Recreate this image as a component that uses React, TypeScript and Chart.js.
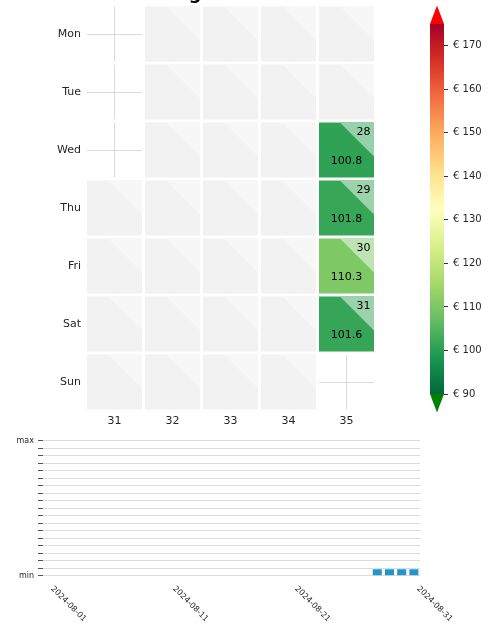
import React, { useEffect, useRef } from 'react';
import { Chart, registerables } from 'chart.js';

Chart.register(...registerables);

// ---------- data ----------
const TITLE = 'Aug 2024';
const weekNumbers = [31, 32, 33, 34, 35];
const weekdayLabels = ['Mon', 'Tue', 'Wed', 'Thu', 'Fri', 'Sat', 'Sun'];
const monthDays = [1, 2, 3, 4, 5, 6, 7, 8, 9, 10, 11, 12, 13, 14, 15, 16, 17, 18, 19, 20, 21, 22, 23, 24, 25, 26, 27, 28, 29, 30, 31];
const firstWeek = 31; // ISO week of 2024-08-01
const firstWeekdayIndex = 3; // 2024-08-01 is a Thursday
const valueDays = [28, 29, 30, 31];
const dailyValues = [100.8, 101.8, 110.3, 101.6];
const colorbarTicks = [90, 100, 110, 120, 130, 140, 150, 160, 170];
const colorMin = 90;
const colorMax = 175;
const barDays = [28, 29, 30, 31];
const barHeights = [0.85, 0.85, 0.85, 0.85];
const levelTicks = [0, 1, 2, 3, 4, 5, 6, 7, 8, 9, 10, 11, 12, 13, 14, 15, 16, 17, 18];
const dateTickDays = [1, 11, 21, 31];
const dateTickLabels = ['2024-08-01', '2024-08-11', '2024-08-21', '2024-08-31'];

// ---------- styles ----------
const FONT = "'DejaVu Sans', sans-serif";
const TEXT = '#262626';
const RDYLGN_R = ['#006837', '#1a9850', '#66bd63', '#a6d96a', '#d9ef8b', '#ffffbf', '#fee08b', '#fdae61', '#f46d43', '#d73027', '#a50026'];

function hexToRgb(h: string): number[] {
  const n = parseInt(h.slice(1), 16);
  return [(n >> 16) & 255, (n >> 8) & 255, n & 255];
}
function cmap(t: number): number[] {
  const c = Math.max(0, Math.min(1, t)) * 10;
  const i = Math.min(9, Math.floor(c));
  const f = c - i;
  const a = hexToRgb(RDYLGN_R[i]);
  const b = hexToRgb(RDYLGN_R[i + 1]);
  return a.map((v, k) => Math.round(v + (b[k] - v) * f));
}
const rgb = (c: number[]) => `rgb(${c[0]},${c[1]},${c[2]})`;
const lighten = (c: number[], a: number) => c.map((v) => Math.round(v + (255 - v) * a));
const noPad = (s: any) => {
  s.paddingTop = 0;
  s.paddingBottom = 0;
  s.paddingLeft = 0;
  s.paddingRight = 0;
};

function Heatmap() {
  const ref = useRef<HTMLCanvasElement>(null);
  useEffect(() => {
    const cellsPlugin = {
      id: 'calendarCells',
      beforeDatasetsDraw(chart: any) {
        const { ctx } = chart;
        const xs = chart.scales.x;
        const ys = chart.scales.y;
        ctx.save();
        ctx.strokeStyle = '#ffffff';
        ctx.lineWidth = 3;
        for (const w of weekNumbers) {
          for (let r = 1; r <= weekdayLabels.length; r++) {
            const x0 = xs.getPixelForValue(w - 0.5);
            const x1 = xs.getPixelForValue(w + 0.5);
            const y0 = ys.getPixelForValue(r - 0.5);
            const y1 = ys.getPixelForValue(r + 0.5);
            ctx.strokeRect(x0, y0, x1 - x0, y1 - y0);
          }
        }
        for (const d of monthDays) {
          const idx = d - 1 + firstWeekdayIndex;
          const w = firstWeek + Math.floor(idx / 7);
          const r = (idx % 7) + 1;
          const k = valueDays.indexOf(d);
          const has = k >= 0;
          const base = has ? cmap((dailyValues[k] - colorMin) / (colorMax - colorMin)) : [242, 242, 242];
          const tri = has ? lighten(base, 0.5) : [247, 247, 247];
          const x0 = xs.getPixelForValue(w - 0.5) + 1.5;
          const x1 = xs.getPixelForValue(w + 0.5) - 1.5;
          const y0 = ys.getPixelForValue(r - 0.5) + 1.5;
          const y1 = ys.getPixelForValue(r + 0.5) - 1.5;
          const cw = x1 - x0;
          const ch = y1 - y0;
          ctx.fillStyle = rgb(base);
          ctx.fillRect(x0, y0, cw, ch);
          ctx.beginPath();
          ctx.moveTo(x0 + 0.38 * cw, y0);
          ctx.lineTo(x1, y0);
          ctx.lineTo(x1, y0 + 0.62 * ch);
          ctx.closePath();
          ctx.fillStyle = rgb(tri);
          ctx.fill();
          if (has) {
            ctx.fillStyle = '#000000';
            ctx.font = `11px ${FONT}`;
            ctx.textBaseline = 'middle';
            ctx.textAlign = 'right';
            ctx.fillText(String(d), x1 - 3.5, y0 + 10);
            ctx.textAlign = 'center';
            ctx.fillText(dailyValues[k].toFixed(1), (x0 + x1) / 2, (y0 + y1) / 2 + 11);
          }
        }
        ctx.restore();
      },
      afterDraw(chart: any) {
        const { ctx } = chart;
        ctx.save();
        ctx.fillStyle = '#000000';
        ctx.font = `bold 18px ${FONT}`;
        ctx.textAlign = 'center';
        ctx.textBaseline = 'alphabetic';
        ctx.fillText(TITLE, 210, -1);
        ctx.restore();
      },
    };
    const chart = new Chart(ref.current as HTMLCanvasElement, {
      type: 'scatter',
      data: { datasets: [{ data: [], pointRadius: 0 }] },
      options: {
        animation: false,
        responsive: false,
        layout: { padding: { left: 0, top: 5, right: 24.5, bottom: 0 } },
        plugins: { legend: { display: false }, tooltip: { enabled: false } },
        scales: {
          x: {
            type: 'linear',
            min: weekNumbers[0] - 0.5,
            max: weekNumbers[weekNumbers.length - 1] + 0.5,
            afterBuildTicks: (s: any) => {
              s.ticks = weekNumbers.map((v) => ({ value: v }));
            },
            afterFit: (s: any) => {
              s.height = 29;
              noPad(s);
            },
            ticks: {
              callback: (v: any) => String(v),
              font: { family: FONT, size: 11 },
              color: TEXT,
              padding: 4,
              maxRotation: 0,
              minRotation: 0,
              autoSkip: false,
            },
            grid: { color: '#d9d9d9', lineWidth: 1, drawTicks: false },
            border: { display: false },
          },
          y: {
            type: 'linear',
            reverse: true,
            min: 0.5,
            max: weekdayLabels.length + 0.5,
            afterBuildTicks: (s: any) => {
              s.ticks = weekdayLabels.map((_, i) => ({ value: i + 1 }));
            },
            afterFit: (s: any) => {
              s.width = 85.5;
              noPad(s);
            },
            ticks: {
              callback: (v: any) => weekdayLabels[Math.round(v) - 1] ?? '',
              font: { family: FONT, size: 11 },
              color: TEXT,
              padding: 4.5,
              autoSkip: false,
            },
            grid: { color: '#d9d9d9', lineWidth: 1, drawTicks: false },
            border: { display: false },
          },
        },
      },
      plugins: [cellsPlugin],
    } as any);
    return () => chart.destroy();
  }, []);
  return (
    <canvas
      ref={ref}
      width={400}
      height={440}
      style={{ position: 'absolute', left: 0, top: 0, width: 400, height: 440 }}
    />
  );
}

function Colorbar() {
  const ref = useRef<HTMLCanvasElement>(null);
  useEffect(() => {
    const barPlugin = {
      id: 'colorbarBody',
      beforeDatasetsDraw(chart: any) {
        const { ctx, chartArea } = chart;
        const ys = chart.scales.y;
        const yb = ys.getPixelForValue(colorMin);
        const yt = ys.getPixelForValue(colorMax);
        const l = chartArea.left;
        const r = chartArea.right;
        const g = ctx.createLinearGradient(0, yb, 0, yt);
        RDYLGN_R.forEach((c, i) => g.addColorStop(i / (RDYLGN_R.length - 1), c));
        ctx.save();
        ctx.fillStyle = g;
        ctx.fillRect(l, yt, r - l, yb - yt);
        const len = (r - l) * 1.33;
        ctx.fillStyle = '#ff0000';
        ctx.beginPath();
        ctx.moveTo(l, yt);
        ctx.lineTo(r, yt);
        ctx.lineTo((l + r) / 2, yt - len);
        ctx.closePath();
        ctx.fill();
        ctx.fillStyle = '#008000';
        ctx.beginPath();
        ctx.moveTo(l, yb);
        ctx.lineTo(r, yb);
        ctx.lineTo((l + r) / 2, yb + len);
        ctx.closePath();
        ctx.fill();
        ctx.restore();
      },
    };
    const chart = new Chart(ref.current as HTMLCanvasElement, {
      type: 'scatter',
      data: { datasets: [{ data: [], pointRadius: 0 }] },
      options: {
        animation: false,
        responsive: false,
        layout: { padding: { left: 30, top: 24, right: 0, bottom: 46 } },
        plugins: { legend: { display: false }, tooltip: { enabled: false } },
        scales: {
          x: { display: false, min: 0, max: 1 },
          y: {
            type: 'linear',
            position: 'right',
            min: colorMin,
            max: colorMax,
            afterBuildTicks: (s: any) => {
              s.ticks = colorbarTicks.map((v) => ({ value: v }));
            },
            afterFit: (s: any) => {
              s.width = 55;
              noPad(s);
            },
            ticks: {
              callback: (v: any) => `€ ${v}`,
              font: { family: FONT, size: 10 },
              color: TEXT,
              padding: 5,
              autoSkip: false,
            },
            grid: { drawOnChartArea: false, drawTicks: true, tickLength: 4, tickColor: '#333333', tickWidth: 1 },
            border: { display: false },
          },
        },
      },
      plugins: [barPlugin],
    } as any);
    return () => chart.destroy();
  }, []);
  return (
    <canvas
      ref={ref}
      width={99}
      height={440}
      style={{ position: 'absolute', left: 400, top: 0, width: 99, height: 440 }}
    />
  );
}

function DailyBars() {
  const ref = useRef<HTMLCanvasElement>(null);
  useEffect(() => {
    const labelPlugin = {
      id: 'dateLabels',
      afterDraw(chart: any) {
        const { ctx, chartArea } = chart;
        const xs = chart.scales.x;
        ctx.save();
        ctx.fillStyle = TEXT;
        ctx.font = `8px ${FONT}`;
        ctx.textAlign = 'left';
        ctx.textBaseline = 'top';
        dateTickDays.forEach((d, i) => {
          const px = xs.getPixelForValue(d);
          ctx.save();
          ctx.translate(px + 7, chartArea.bottom + 9);
          ctx.rotate(Math.PI / 4);
          ctx.fillText(dateTickLabels[i], 0, 0);
          ctx.restore();
        });
        ctx.restore();
      },
    };
    const chart = new Chart(ref.current as HTMLCanvasElement, {
      type: 'bar',
      data: {
        datasets: [
          {
            data: barDays.map((d, i) => ({ x: d, y: barHeights[i] })),
            backgroundColor: 'rgb(33,150,206)',
            borderWidth: 0,
            barPercentage: 1,
            categoryPercentage: 0.74,
          },
        ],
      },
      options: {
        animation: false,
        responsive: false,
        layout: { padding: { left: 0, top: 15.7, right: 79, bottom: 0 } },
        plugins: { legend: { display: false }, tooltip: { enabled: false } },
        scales: {
          x: {
            type: 'linear',
            offset: false,
            min: 0.6,
            max: 31.5,
            afterFit: (s: any) => {
              s.height = 49.3;
              noPad(s);
            },
            ticks: { display: false },
            grid: { display: false, offset: false },
            border: { display: false },
          },
          y: {
            type: 'linear',
            min: levelTicks[0],
            max: levelTicks[levelTicks.length - 1],
            afterBuildTicks: (s: any) => {
              s.ticks = levelTicks.map((v) => ({ value: v }));
            },
            afterFit: (s: any) => {
              s.width = 43;
              noPad(s);
            },
            ticks: {
              callback: (v: any) =>
                v === levelTicks[levelTicks.length - 1] ? 'max' : v === levelTicks[0] ? 'min' : '',
              font: { family: FONT, size: 8 },
              color: TEXT,
              padding: 4,
              autoSkip: false,
            },
            grid: { color: '#dcdcdc', lineWidth: 1, drawTicks: true, tickLength: 5, tickColor: '#555555' },
            border: { display: false },
          },
        },
      },
      plugins: [labelPlugin],
    } as any);
    return () => chart.destroy();
  }, []);
  return (
    <canvas
      ref={ref}
      width={499}
      height={200}
      style={{ position: 'absolute', left: 0, top: 425, width: 499, height: 200 }}
    />
  );
}

export default function App() {
  return (
    <div
      style={{
        position: 'fixed',
        left: 0,
        top: 0,
        width: 499,
        height: 625,
        background: '#ffffff',
        overflow: 'hidden',
      }}
    >
      <Heatmap />
      <Colorbar />
      <DailyBars />
    </div>
  );
}
